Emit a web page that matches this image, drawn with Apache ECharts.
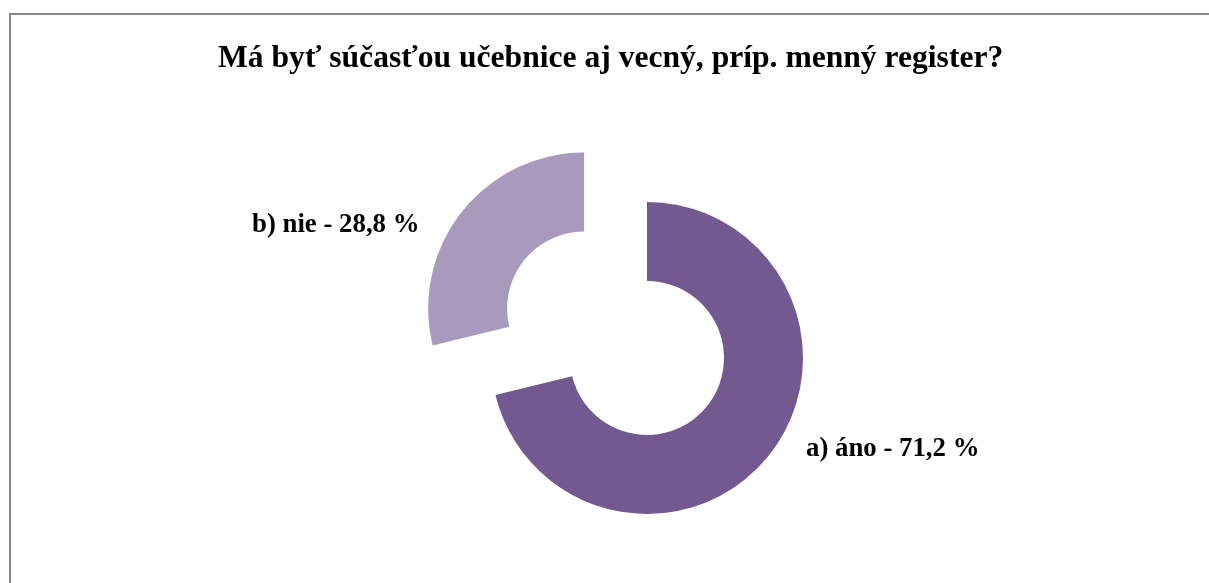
<!DOCTYPE html>
<html>
<head>
<meta charset="utf-8">
<script src="https://cdn.jsdelivr.net/npm/echarts@6/dist/echarts.min.js"></script>
<style>
    html, body { margin: 0; padding: 0; background: #fff; }
    #frame {
        position: absolute; left: 9px; top: 13px; width: 1210px; height: 600px;
        border-left: 2px solid #878787; border-top: 2px solid #878787;
    }
    #divChart { position: absolute; left: 0; top: 0; width: 1209px; height: 583px; }
</style>
</head>
<body>
<div id="frame"></div>
<div id="divChart"></div>
<script>
// údaje grafu
var chartTitle = 'Má byť súčasťou učebnice aj vecný, príp. menný register?';
var categories = ['a) áno', 'b) nie'];
var values = [71.2, 28.8];
var colors = ['#72598f', '#a99abd'];

// pozície popisov (ľavý okraj, stred výšky)
var labelPos = [[806, 449], [252, 225]];

var myChart = echarts.init(document.getElementById('divChart'));

function labelText(i) {
    return categories[i] + ' - ' + String(values[i]).replace('.', ',') + ' %';
}

var pieData = [];
var labels = [];
for (var i = 0; i < categories.length; i++) {
    pieData.push({
        name: categories[i],
        value: values[i],
        selected: i === 1,
        itemStyle: { color: colors[i] }
    });
    labels.push({
        type: 'text',
        x: labelPos[i][0],
        y: labelPos[i][1],
        style: {
            text: labelText(i),
            fontFamily: 'Liberation Serif',
            fontWeight: 'bold',
            fontSize: 26.8,
            fill: '#000',
            textAlign: 'left',
            textVerticalAlign: 'middle'
        }
    });
}

var option = {
    animation: false,
    title: {
        text: chartTitle,
        left: 218,
        top: 43,
        padding: 0,
        textStyle: {
            fontFamily: 'Liberation Serif',
            fontWeight: 'bold',
            fontSize: 31.6,
            color: '#000'
        }
    },
    graphic: labels,
    series: [
        {
            type: 'pie',
            center: [647, 358],
            radius: [77, 156],
            startAngle: 90,
            clockwise: true,
            selectedMode: 'single',
            selectedOffset: 80,
            emphasis: { disabled: true },
            label: { show: false },
            labelLine: { show: false },
            data: pieData
        }
    ]
};

myChart.setOption(option);
</script>
</body>
</html>
